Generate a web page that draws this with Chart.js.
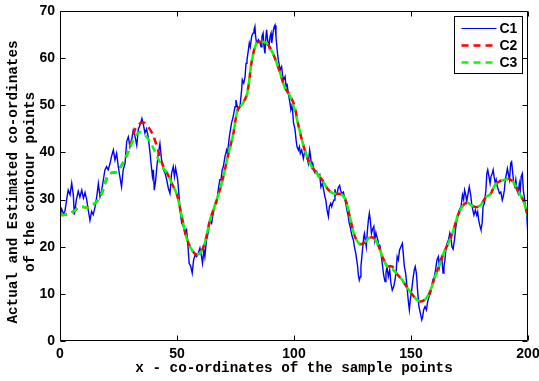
<!DOCTYPE html>
<html>
<head>
<meta charset="utf-8">
<script src="https://cdn.jsdelivr.net/npm/chart.js@4.4.0/dist/chart.umd.min.js"></script>
<style>
  html, body { margin: 0; padding: 0; background: #fff; }
  #wrap { width: 539px; height: 381px; position: relative; }
</style>
</head>
<body>
<div id="wrap"><canvas id="contour"></canvas></div>
<script>
// C1: actual contour co-ordinates, [x, y]
const c1Samples = [
  [0,26.3],[0.7,28],[1.5,27],[2.1,27.5],[3,30.5],[3.5,32],[4.3,31],[5,33.5],[5.7,31],[6.1,26.8],
  [7,30],[7.8,31.8],[8.5,30.5],[9.3,32],[10,30.3],[10.7,31.5],[11.4,30],[12,28],[12.8,25.6],[13.5,27.5],
  [14.2,26.8],[15,28.5],[15.7,30.6],[16.4,33.4],[17.1,30.6],[17.8,32],[18.5,34.1],[19.2,36.3],[19.9,37],[20.6,36.3],
  [21.4,37.7],[22,39.1],[22.8,40.5],[23.5,38.4],[24.2,39.8],[24.9,37],[25.6,34.8],[26.3,32.7],[27,36.3],[27.8,37.7],
  [28.5,42.3],[29.2,43.3],[29.9,41.2],[30.6,42.6],[31.3,44.7],[32,43.5],[32.8,41.5],[33.5,45],[34.2,45.8],[35,47.2],
  [35.6,46],[36.3,44.1],[37,45],[37.7,43.3],[38.5,39.8],[38.9,37.7],[39.5,34.9],[39.9,36.3],[40.3,32],[40.9,34.2],
  [41.4,37],[42,39.8],[42.7,41.9],[43.4,38.4],[44.2,36.3],[44.9,35.6],[45.6,34.2],[46.3,32.4],[47,31.3],[47.7,35.6],
  [48.4,37],[48.9,34.9],[49.4,36.7],[50.3,34.2],[50.9,30.6],[51.3,27.8],[52,25],[52.7,24.3],[53.4,22.9],[54.1,23.6],
  [54.5,21.4],[54.8,19.3],[55.2,16.5],[55.9,15.8],[56.5,14.4],[57.1,17.2],[57.7,18.2],[58.4,17.9],[59.1,18.6],[59.8,19.7],
  [60.5,17.9],[60.9,16.5],[61.5,19.3],[61.9,17.9],[62.6,21.4],[63.3,22.9],[64.1,25.7],[64.8,25],[65.5,27.1],[66.2,29],
  [66.9,29.2],[67.6,32],[68.3,34.2],[68.8,34.2],[69.3,36.3],[69.8,37],[70.5,39.1],[71.2,40.5],[71.6,39.8],[72.2,42.6],
  [72.6,44.1],[73.3,46.2],[74,47.6],[74.8,49.7],[75.2,51.1],[75.6,50.1],[76.2,49],[76.9,49.7],[77.6,53.2],[77.9,55.4],
  [78.5,54.7],[79.1,56.1],[79.5,58.9],[79.9,59.6],[80.5,61.7],[80.9,63.2],[81.3,62.4],[81.9,64.6],[82.5,65.3],[82.9,66],
  [83.3,66.7],[83.6,64.6],[84,63.2],[84.8,63.9],[85.5,63.2],[85.9,62.4],[86.3,64.6],[86.8,65.3],[87.2,62.4],[87.6,61],
  [88,64.6],[88.3,66],[88.7,63.9],[89.3,62.4],[89.8,64.6],[90.2,65.3],[90.5,63.2],[91.2,66],[91.6,66.7],[91.9,67],
  [92.3,64.6],[92.8,61.7],[93.3,59.6],[94.1,57.5],[94.7,58.2],[95.2,56.1],[95.6,55.4],[96.2,56.1],[96.6,53.9],[97,54.6],
  [97.6,52.5],[98.3,50.4],[98.7,49],[99.3,49.7],[99.8,46.2],[100.4,45],[100.9,42.6],[101.3,41.2],[101.9,40.5],[102.3,41.2],
  [102.7,39.8],[103.3,40.5],[104,38.7],[104.4,39.8],[105,40.2],[105.5,39.1],[106.1,37.7],[106.7,40.5],[107.1,39.1],[107.5,37],
  [108,37.7],[108.5,36.3],[109,35.6],[109.7,36],[110.4,34.9],[111,35.3],[111.5,32.7],[112.1,33.4],[112.7,32],[113.2,30.6],
  [113.6,29.9],[114.1,27.8],[114.7,26.4],[115.1,28.5],[115.7,29.2],[116.1,28.5],[116.5,29.2],[117.1,29.9],[117.5,32.2],[117.9,31],
  [118.5,31.5],[118.9,32.5],[119.5,33],[119.9,32],[120.4,31.3],[121.1,31.6],[121.5,30.6],[122.1,29.2],[122.6,27.8],[123.2,26.4],
  [123.6,25],[124,24.3],[124.4,23.2],[124.9,22.1],[125.4,21.4],[125.8,20],[126.4,18.6],[126.8,17.2],[127.2,15.8],[127.5,14],
  [127.9,12.9],[128.3,13.6],[128.6,15.8],[129,17.9],[129.4,20],[129.8,22.1],[130.1,22.8],[130.5,21.4],[130.9,20],[131.4,23.6],
  [131.8,25.7],[132.2,27.1],[132.6,25.7],[133.1,22.8],[133.5,23.6],[134.1,24.3],[134.5,21.4],[135,23],[135.4,22.1],[135.8,21.5],
  [136.2,20.4],[136.7,20.3],[137.2,18.6],[137.7,16.5],[138.3,14],[138.9,12.6],[139.3,14.4],[139.7,15.8],[140.3,13.7],[140.9,15.1],
  [141.4,12.3],[142,10.8],[142.6,11.5],[143.2,13],[143.7,15.1],[144.1,17.9],[144.6,17.2],[145.1,19.3],[145.7,20],[146.3,20.7],
  [146.7,18.6],[147.1,16],[147.7,14.4],[148.3,11.5],[148.8,8.7],[149.3,6.6],[149.7,8.7],[150.3,10.8],[150.8,13],[151.4,15.1],
  [151.8,15.8],[152.3,14.4],[152.8,10.8],[153.4,7.3],[154,5.9],[154.6,4.5],[155,5.2],[155.4,6.6],[156,7.3],[156.6,6.6],
  [157.1,8.3],[157.7,9.4],[158.3,10.1],[158.8,11.5],[159.4,13],[160,13.7],[160.5,15.1],[161.1,17.2],[161.7,17.9],[162.1,15.8],
  [162.5,17.2],[163.1,17.9],[163.7,14.4],[164.1,15.8],[164.5,17.2],[165,19.9],[165.4,20.7],[166,21.4],[166.6,22.9],[167,22.2],
  [167.5,20],[168,19.5],[168.6,21.5],[169.1,24],[169.7,25.8],[170.3,27.2],[170.8,28],[171.4,28.5],[172,31],[172.5,30],
  [172.9,32],[173.4,31],[173.8,29.6],[174.4,31.3],[174.9,32.7],[175.5,31],[175.9,29.2],[176.4,27.8],[176.9,26.7],[177.5,27.8],
  [178.1,26.7],[178.5,27.4],[178.9,25.7],[179.5,24.3],[179.9,23.6],[180.4,25],[180.8,28.5],[181.4,29.2],[182,32],[182.4,35.5],
  [182.8,36.3],[183.3,34.9],[183.8,33.4],[184.2,34.9],[184.7,35.5],[185.1,36.3],[185.5,34.9],[186,33.5],[186.4,34.2],[186.9,32.7],
  [187.4,32],[187.8,31.3],[188.4,31.6],[189,29.9],[189.4,30.6],[189.9,32],[190.3,34.2],[190.8,35.5],[191.2,36.6],[191.7,35.2],
  [192.1,34.2],[192.6,37.7],[193,38],[193.5,35.5],[193.9,33.5],[194.4,32.7],[194.8,34.2],[195.3,32],[195.8,31.3],[196.3,33.4],
  [196.7,32],[197.1,34.9],[197.6,35.5],[198,32],[198.5,30.3],[198.9,28.5],[199.4,27.1],[199.8,24],[200,21.5]
];

// sample positions of the two estimates
const estX = [
  0,2,4,6,8,10,12,14,16,18,20,22,24,26,28,30,32,34,36,38,
  40,42,44,46,48,50,52,54,56,58,60,62,64,66,68,70,72,74,76,78,
  80,82,84,86,88,90,92,94,96,98,100,102,104,106,108,110,112,114,116,118,
  120,122,124,126,128,130,132,134,136,138,140,142,144,146,148,150,152,154,156,158,
  160,162,164,166,168,170,172,174,176,178,180,182,184,186,188,190,192,194,196,198,200
];

// C2 estimate
const c2Y = [
  26.7,26.8,27,27.6,28.3,28.4,28.3,28.8,29.8,31.5,34.5,35.7,35.8,37,38.8,41.3,44.8,46.1,46.3,45.2,
  43.4,40.3,37.2,35.4,33.2,31,26.5,22,19.6,18.4,18.7,21,25.5,28.5,31.5,35.3,39.8,43.8,49.2,50.3,
  52.5,59.5,63.2,63.5,63.3,62,59.8,57,53.8,52.3,50.2,45.5,41.5,38.5,36.7,35.4,34.2,32.5,31.5,31.2,
  31.2,30,26,22.2,20.6,20.8,21.8,21.9,20.3,17.6,15.9,15.8,14.2,13.1,11.6,10.2,9,8.4,8.8,10.3,
  13.3,15.9,18.7,20.8,23.3,26.6,28.6,29.4,28.7,28.4,29,30.5,31.2,33.2,33.9,34.2,34.4,33.5,31.6,29.8,26.4
];

// C3 estimate
const c3Y = [
  26.7,26.8,27,27.6,28.3,28.4,28.3,28.8,29.8,31.5,34.5,35.7,35.8,37,38.8,41.2,43.3,44.3,43.8,42.6,
  40.8,38.6,36.8,35.4,33.2,31,26.5,22,19.6,18.4,18.7,21,25.5,28.5,31.5,35.3,39.8,43.8,49.2,50.3,
  52.5,59.5,63.2,63.5,63.3,62,59.8,57,53.8,52.3,49.5,45.5,41.5,38.5,36.7,35.4,34.2,32.5,31.5,31.2,
  31.2,30,26,22.2,20.6,20.8,21.8,21.9,20.3,17.6,15.6,15.3,14.2,13.1,11.6,10.2,9,8.4,8.8,10.3,
  13.3,15.9,18.7,20.8,23.3,26.6,28.6,29.4,28.7,28.4,29,30.5,31.2,33.2,33.9,34.2,34.4,33.5,31.6,29.8,26.4
];

const seriesNames = ['C1', 'C2', 'C3'];
const xTicks = [0, 50, 100, 150, 200];
const yTicks = [0, 10, 20, 30, 40, 50, 60, 70];
const yTitleLines = ['Actual and Estimated co-ordinates', 'of the contour points'];

const tickFont = { family: "'Liberation Sans', Arial, sans-serif", size: 14, weight: 'bold' };
const monoFont = { family: "'Liberation Mono', 'Courier New', monospace", size: 14.3, weight: 'bold' };

// MATLAB style box with inward ticks on all four sides
const boxPlugin = {
    id: 'matlabBox',
    afterDatasetsDraw(chart) {
        const { ctx, chartArea: a, scales } = chart;
        const l = Math.round(a.left) + 0.5, r = Math.round(a.right) - 0.5;
        const t = Math.round(a.top) + 0.5, b = Math.round(a.bottom) - 0.5;
        ctx.save();
        ctx.strokeStyle = '#000';
        ctx.lineWidth = 1;
        ctx.beginPath();
        ctx.rect(l, t, r - l, b - t);
        xTicks.forEach(v => {
            const px = Math.round(scales.x.getPixelForValue(v)) + 0.5;
            ctx.moveTo(px, b); ctx.lineTo(px, b - 5);
            ctx.moveTo(px, t); ctx.lineTo(px, t + 5);
        });
        yTicks.forEach(v => {
            const py = Math.round(scales.y.getPixelForValue(v)) + 0.5;
            ctx.moveTo(l, py); ctx.lineTo(l + 5, py);
            ctx.moveTo(r, py); ctx.lineTo(r - 5, py);
        });
        ctx.stroke();
        ctx.restore();
    }
};

// two line y axis title, rotated, sitting a little below the plot centre
const yTitlePlugin = {
    id: 'yTitle',
    afterDraw(chart) {
        const ctx = chart.ctx;
        const a = chart.chartArea;
        ctx.save();
        ctx.translate(13, (a.top + a.bottom) / 2 + 6);
        ctx.rotate(-Math.PI / 2);
        ctx.fillStyle = '#000';
        ctx.font = 'bold 14.3px "Liberation Mono", "Courier New", monospace';
        ctx.textAlign = 'center';
        ctx.textBaseline = 'middle';
        yTitleLines.forEach((line, i) => ctx.fillText(line, 0, i * 17));
        ctx.restore();
    }
};

// legend box in the upper right corner
const legendPlugin = {
    id: 'boxLegend',
    afterDraw(chart) {
        const ctx = chart.ctx;
        const a = chart.chartArea;
        const bx = Math.round(a.right) - 73.5, by = Math.round(a.top) + 5.5;
        ctx.save();
        ctx.fillStyle = '#fff';
        ctx.fillRect(bx, by, 68, 57);
        ctx.strokeStyle = '#000';
        ctx.lineWidth = 1;
        ctx.strokeRect(bx, by, 68, 57);
        chart.data.datasets.forEach((ds, i) => {
            const y = by + 12 + i * 17;
            ctx.beginPath();
            ctx.strokeStyle = ds.borderColor;
            ctx.lineWidth = i === 0 ? 1 : ds.borderWidth;
            ctx.setLineDash(ds.borderDash || []);
            ctx.moveTo(bx + 7, y);
            ctx.lineTo(bx + 42, y);
            ctx.stroke();
            ctx.setLineDash([]);
            ctx.fillStyle = '#000';
            ctx.font = 'bold 14px "Liberation Sans", Arial, sans-serif';
            ctx.textAlign = 'left';
            ctx.textBaseline = 'middle';
            ctx.fillText(ds.label, bx + 45, y + 1);
        });
        ctx.restore();
    }
};

const ctx = document.getElementById('contour');

new Chart(ctx, {
    type: 'line',
    data: {
        datasets: [
            {
                label: seriesNames[0],
                data: c1Samples.map(p => ({ x: p[0], y: p[1] })),
                borderColor: '#0000ff',
                borderWidth: 1.4,
                pointRadius: 0,
                tension: 0,
                order: 3
            },
            {
                label: seriesNames[1],
                data: estX.map((x, i) => ({ x: x, y: c2Y[i] })),
                borderColor: '#ff0000',
                borderWidth: 2.5,
                borderDash: [7, 5],
                pointRadius: 0,
                tension: 0.3,
                order: 2
            },
            {
                label: seriesNames[2],
                data: estX.map((x, i) => ({ x: x, y: c3Y[i] })),
                borderColor: '#00ff00',
                borderWidth: 2.5,
                borderDash: [7, 5],
                pointRadius: 0,
                tension: 0.3,
                order: 1
            }
        ]
    },
    options: {
        responsive: true,
        maintainAspectRatio: false,
        animation: false,
        layout: { padding: { top: 11, right: 11, left: 0, bottom: 0 } },
        plugins: {
            legend: { display: false },
            tooltip: { enabled: false }
        },
        scales: {
            x: {
                type: 'linear',
                min: 0,
                max: 200,
                afterFit: scale => {
                    scale.height = 40;
                    scale.paddingLeft = 0;
                    scale.paddingRight = 0;
                },
                afterBuildTicks: scale => { scale.ticks = xTicks.map(v => ({ value: v })); },
                grid: { display: false, drawTicks: false },
                border: { display: false },
                ticks: { font: tickFont, color: '#000', padding: 5, maxRotation: 0 },
                title: {
                    display: true,
                    text: 'x - co-ordinates of the sample points',
                    font: monoFont,
                    color: '#000',
                    padding: { top: 0, bottom: 4 }
                }
            },
            y: {
                min: 0,
                max: 70,
                afterFit: scale => {
                    scale.width = 60;
                    scale.paddingTop = 0;
                    scale.paddingBottom = 0;
                },
                afterBuildTicks: scale => { scale.ticks = yTicks.map(v => ({ value: v })); },
                grid: { display: false, drawTicks: false },
                border: { display: false },
                ticks: { font: tickFont, color: '#000', padding: 5 }
            }
        }
    },
    plugins: [boxPlugin, yTitlePlugin, legendPlugin]
});
</script>
</body>
</html>
